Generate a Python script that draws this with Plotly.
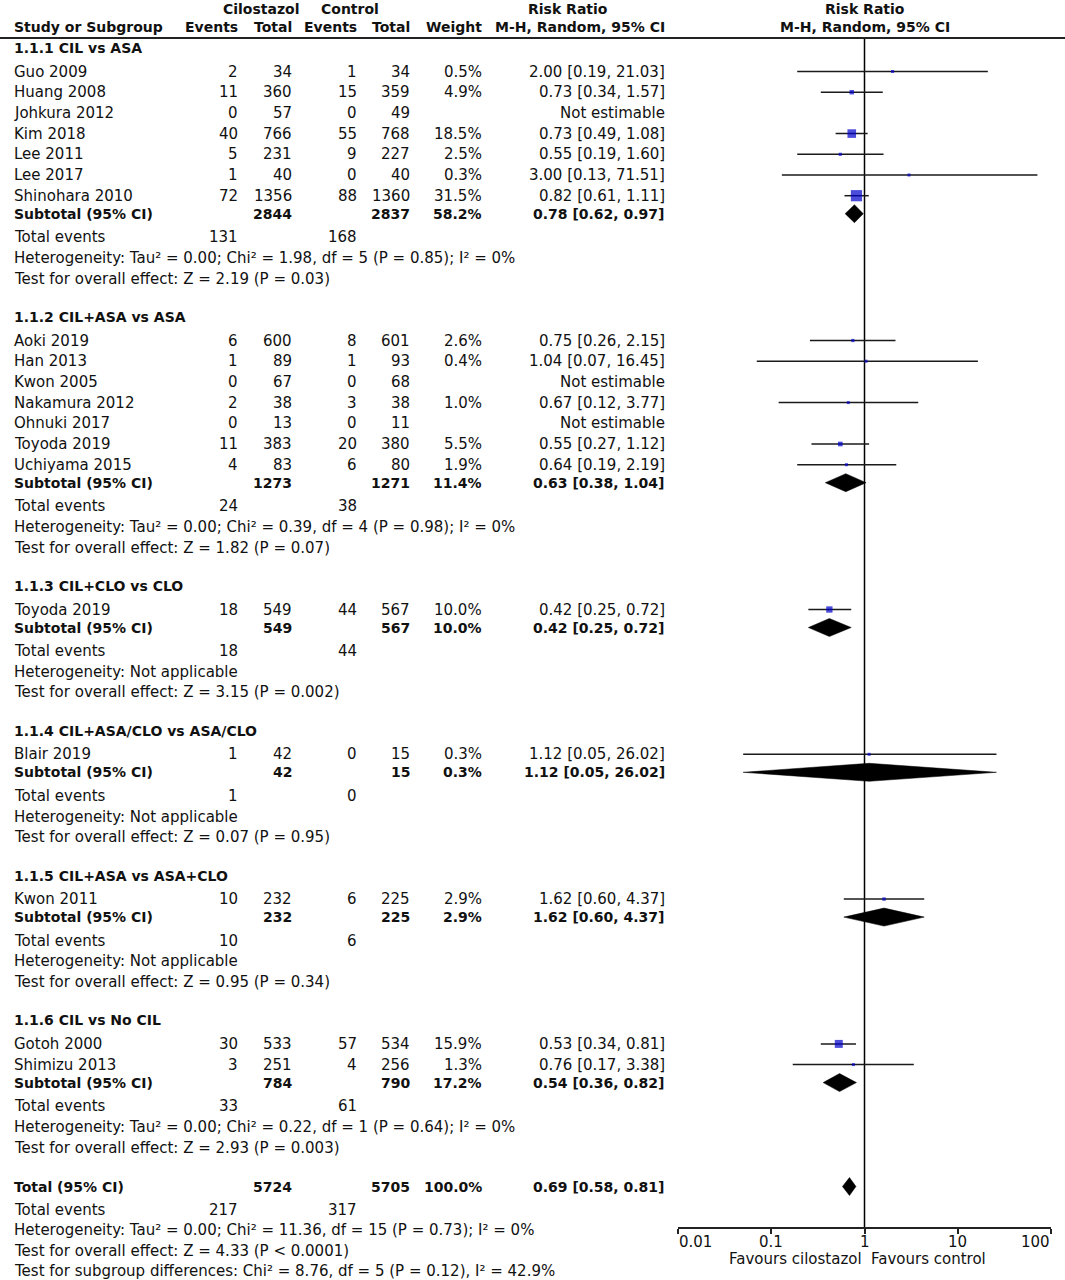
import math
import plotly.graph_objects as go

W, H = 1065, 1280
FONT = "DejaVu Sans"
FS = 15.0      # regular text
FSB = 14.0     # bold text
TXT = "#111111"

# ---------------- data ----------------
groups = ["1.1.1 CIL vs ASA", "1.1.2 CIL+ASA vs ASA", "1.1.3 CIL+CLO vs CLO",
          "1.1.4 CIL+ASA/CLO vs ASA/CLO", "1.1.5 CIL+ASA vs ASA+CLO", "1.1.6 CIL vs No CIL"]

study_names = [
    ["Guo 2009", "Huang 2008", "Johkura 2012", "Kim 2018", "Lee 2011", "Lee 2017", "Shinohara 2010"],
    ["Aoki 2019", "Han 2013", "Kwon 2005", "Nakamura 2012", "Ohnuki 2017", "Toyoda 2019", "Uchiyama 2015"],
    ["Toyoda 2019"],
    ["Blair 2019"],
    ["Kwon 2011"],
    ["Gotoh 2000", "Shimizu 2013"],
]
cil_events = [[2, 11, 0, 40, 5, 1, 72], [6, 1, 0, 2, 0, 11, 4], [18], [1], [10], [30, 3]]
cil_total = [[34, 360, 57, 766, 231, 40, 1356], [600, 89, 67, 38, 13, 383, 83], [549], [42], [232], [533, 251]]
ctl_events = [[1, 15, 0, 55, 9, 0, 88], [8, 1, 0, 3, 0, 20, 6], [44], [0], [6], [57, 4]]
ctl_total = [[34, 359, 49, 768, 227, 40, 1360], [601, 93, 68, 38, 11, 380, 80], [567], [15], [225], [534, 256]]
weights = [[0.5, 4.9, None, 18.5, 2.5, 0.3, 31.5], [2.6, 0.4, None, 1.0, None, 5.5, 1.9], [10.0], [0.3], [2.9], [15.9, 1.3]]
rr = [[2.00, 0.73, None, 0.73, 0.55, 3.00, 0.82], [0.75, 1.04, None, 0.67, None, 0.55, 0.64], [0.42], [1.12], [1.62], [0.53, 0.76]]
rr_lo = [[0.19, 0.34, None, 0.49, 0.19, 0.13, 0.61], [0.26, 0.07, None, 0.12, None, 0.27, 0.19], [0.25], [0.05], [0.60], [0.34, 0.17]]
rr_hi = [[21.03, 1.57, None, 1.08, 1.60, 71.51, 1.11], [2.15, 16.45, None, 3.77, None, 1.12, 2.19], [0.72], [26.02], [4.37], [0.81, 3.38]]

sub_cil_total = [2844, 1273, 549, 42, 232, 784]
sub_ctl_total = [2837, 1271, 567, 15, 225, 790]
sub_weight = [58.2, 11.4, 10.0, 0.3, 2.9, 17.2]
sub_rr = [0.78, 0.63, 0.42, 1.12, 1.62, 0.54]
sub_lo = [0.62, 0.38, 0.25, 0.05, 0.60, 0.36]
sub_hi = [0.97, 1.04, 0.72, 26.02, 4.37, 0.82]
sub_ev_cil = [131, 24, 18, 1, 10, 33]
sub_ev_ctl = [168, 38, 44, 0, 6, 61]
heterogeneity = [
    "Heterogeneity: Tau² = 0.00; Chi² = 1.98, df = 5 (P = 0.85); I² = 0%",
    "Heterogeneity: Tau² = 0.00; Chi² = 0.39, df = 4 (P = 0.98); I² = 0%",
    "Heterogeneity: Not applicable",
    "Heterogeneity: Not applicable",
    "Heterogeneity: Not applicable",
    "Heterogeneity: Tau² = 0.00; Chi² = 0.22, df = 1 (P = 0.64); I² = 0%",
]
overall_effect = [
    "Test for overall effect: Z = 2.19 (P = 0.03)",
    "Test for overall effect: Z = 1.82 (P = 0.07)",
    "Test for overall effect: Z = 3.15 (P = 0.002)",
    "Test for overall effect: Z = 0.07 (P = 0.95)",
    "Test for overall effect: Z = 0.95 (P = 0.34)",
    "Test for overall effect: Z = 2.93 (P = 0.003)",
]

total_cil_total, total_ctl_total, total_weight = 5724, 5705, 100.0
total_rr, total_lo, total_hi = 0.69, 0.58, 0.81
total_ev_cil, total_ev_ctl = 217, 317
total_footer = [
    "Heterogeneity: Tau² = 0.00; Chi² = 11.36, df = 15 (P = 0.73); I² = 0%",
    "Test for overall effect: Z = 4.33 (P &lt; 0.0001)",
    "Test for subgroup differences: Chi² = 8.76, df = 5 (P = 0.12), I² = 42.9%",
]
axis_ticks = [0.01, 0.1, 1, 10, 100]
axis_ticklabels = ["0.01", "0.1", "1", "10", "100"]

# ---------------- layout constants (pixels) ----------------
X_NAME = 13
X_CEV, X_CTOT, X_KEV, X_KTOT, X_W, X_CI = 239, 293, 358, 411, 483, 666
LINE_Y = 38
AXIS_Y = 1228

annotations = []


def txt(x, y, s, anchor="left", bold=False, xref="paper"):
    # paper x given in pixels; data x given as risk ratio (log axis -> log10)
    xx = x / W if xref == "paper" else math.log10(x)
    annotations.append(dict(
        x=xx, y=y, xref=xref, yref="y",
        text=f"<b>{s}</b>" if bold else s, showarrow=False,
        xanchor=anchor, yanchor="middle", borderpad=0,
        font=dict(family=FONT, size=FSB if bold else FS, color=TXT)))


# headers
txt(261, 8.5, "Cilostazol", "center", True)
txt(350, 8.5, "Control", "center", True)
txt(568, 8.5, "Risk Ratio", "center", True)
txt(1, 8.5, "Risk Ratio", "center", True, xref="x")
txt(X_NAME, 27, "Study or Subgroup", "left", True)
for xx, s in [(X_CEV, "Events"), (X_CTOT, "Total"), (X_KEV, "Events"), (X_KTOT, "Total"),
              (X_W, "Weight"), (X_CI, "M-H, Random, 95% CI")]:
    txt(xx, 27, s, "right", True)
txt(1, 27, "M-H, Random, 95% CI", "center", True, xref="x")

ci_x, ci_y = [], []
sq_x, sq_y, sq_s = [], [], []
dia_x, dia_y = [], []
DH = 9


def diamond(y, lo, est, hi):
    dia_x.extend([lo, est, hi, est, lo, None])
    dia_y.extend([y, y - DH, y, y + DH, y, None])


y = LINE_Y + 10
for g in range(len(groups)):
    if g > 0:
        y += 38.4
    txt(X_NAME, y, groups[g], "left", True)
    for i, name in enumerate(study_names[g]):
        y += 23.5 if i == 0 else 20.7
        txt(X_NAME, y, name)
        txt(X_CEV, y, str(cil_events[g][i]), "right")
        txt(X_CTOT, y, str(cil_total[g][i]), "right")
        txt(X_KEV, y, str(ctl_events[g][i]), "right")
        txt(X_KTOT, y, str(ctl_total[g][i]), "right")
        if rr[g][i] is None:
            txt(X_CI, y, "Not estimable", "right")
        else:
            txt(X_W, y, f"{weights[g][i]:.1f}%", "right")
            txt(X_CI, y, f"{rr[g][i]:.2f} [{rr_lo[g][i]:.2f}, {rr_hi[g][i]:.2f}]", "right")
            ci_x.extend([rr_lo[g][i], rr_hi[g][i], None])
            ci_y.extend([y, y, None])
            sq_x.append(rr[g][i])
            sq_y.append(y)
            sq_s.append(max(3.0, 2.0 * weights[g][i] ** 0.5))
    y += 18
    txt(X_NAME, y, "Subtotal (95% CI)", "left", True)
    txt(X_CTOT, y, str(sub_cil_total[g]), "right", True)
    txt(X_KTOT, y, str(sub_ctl_total[g]), "right", True)
    txt(X_W, y, f"{sub_weight[g]:.1f}%", "right", True)
    txt(X_CI, y, f"{sub_rr[g]:.2f} [{sub_lo[g]:.2f}, {sub_hi[g]:.2f}]", "right", True)
    diamond(y, sub_lo[g], sub_rr[g], sub_hi[g])
    y += 23.7
    txt(X_NAME, y, "Total events")
    txt(X_CEV, y, str(sub_ev_cil[g]), "right")
    txt(X_KEV, y, str(sub_ev_ctl[g]), "right")
    y += 20.6
    txt(X_NAME, y, heterogeneity[g])
    y += 20.6
    txt(X_NAME, y, overall_effect[g])

y += 39
txt(X_NAME, y, "Total (95% CI)", "left", True)
txt(X_CTOT, y, str(total_cil_total), "right", True)
txt(X_KTOT, y, str(total_ctl_total), "right", True)
txt(X_W, y, f"{total_weight:.1f}%", "right", True)
txt(X_CI, y, f"{total_rr:.2f} [{total_lo:.2f}, {total_hi:.2f}]", "right", True)
diamond(y, total_lo, total_rr, total_hi)
y += 23
txt(X_NAME, y, "Total events")
txt(X_CEV, y, str(total_ev_cil), "right")
txt(X_KEV, y, str(total_ev_ctl), "right")
for s in total_footer:
    y += 20.6
    txt(X_NAME, y, s)

# axis tick labels and footer labels
for v, lab in zip(axis_ticks, axis_ticklabels):
    anc = "left" if v == axis_ticks[0] else ("right" if v == axis_ticks[-1] else "center")
    txt(v, AXIS_Y + 14, lab, anc, xref="x")
txt(863, AXIS_Y + 31, "Favours cilostazol", "right")
txt(870, AXIS_Y + 31, "Favours control", "left")

fig = go.Figure()
fig.add_trace(go.Scatter(x=[1, 1], y=[LINE_Y, AXIS_Y], mode="lines",
                         line=dict(color="#000000", width=1.5), hoverinfo="skip"))
fig.add_trace(go.Scatter(x=ci_x, y=ci_y, mode="lines",
                         line=dict(color="#1a1a1a", width=1.5), hoverinfo="skip"))
fig.add_trace(go.Scatter(x=dia_x, y=dia_y, mode="lines", fill="toself",
                         fillcolor="#000000", line=dict(color="#000000", width=0.5),
                         hoverinfo="skip"))
fig.add_trace(go.Scatter(x=sq_x, y=sq_y, mode="markers",
                         marker=dict(symbol="square", size=sq_s, color="#0000cc",
                                     line=dict(width=0)), hoverinfo="skip"))

fig.add_shape(type="line", xref="paper", yref="y", x0=0, x1=1, y0=LINE_Y, y1=LINE_Y,
              line=dict(color="#222222", width=2))

fig.update_layout(
    width=W, height=H, margin=dict(l=0, r=0, t=0, b=0),
    paper_bgcolor="white", plot_bgcolor="white", showlegend=False,
    annotations=annotations,
    xaxis=dict(type="log", range=[-2, 2], domain=[678 / W, 1051 / W],
               anchor="free", position=1 - AXIS_Y / H,
               showline=True, linecolor="#222222", linewidth=1.5,
               ticks="outside", ticklen=5, tickwidth=1.5, tickcolor="#222222",
               tickvals=axis_ticks, showticklabels=False,
               showgrid=False, zeroline=False, fixedrange=True),
    yaxis=dict(range=[H, 0], domain=[0, 1], visible=False, fixedrange=True),
)

fig.write_html("out.html", config={"displayModeBar": False},
               post_script="document.body.style.margin='0';document.body.style.overflow='hidden';")
